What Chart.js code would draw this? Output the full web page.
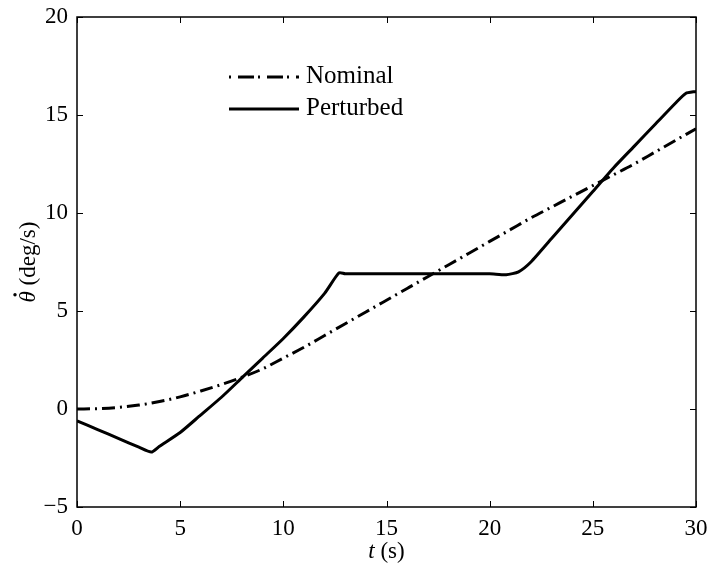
<!DOCTYPE html>
<html>
<head>
<meta charset="utf-8">
<script src="https://cdn.jsdelivr.net/npm/chart.js@4"></script>
<style>
  html, body { margin: 0; padding: 0; background: #fff; }
  #wrap { width: 708px; height: 566px; }
</style>
</head>
<body>
<div id="wrap"><canvas id="thetaChart"></canvas></div>
<script>
// Nominal response
const nominalT = [0, 1, 2, 3, 4, 5, 6, 7, 8, 9, 10, 11, 12, 13, 14, 15, 16, 17, 18, 19, 20, 21, 22, 23, 24, 25, 26, 27, 28, 29, 30];
const nominalY = [0, 0.02, 0.08, 0.2, 0.38, 0.62, 0.92, 1.25, 1.62, 2.05, 2.6, 3.15, 3.75, 4.35, 4.95, 5.55, 6.15, 6.75, 7.35, 7.95, 8.55, 9.15, 9.75, 10.3, 10.85, 11.4, 11.95, 12.5, 13.1, 13.7, 14.3];

// Perturbed response
const perturbedT = [0, 1, 2, 3, 3.6, 4, 5, 6, 7, 8, 9, 10, 11, 12, 12.7, 13, 15, 18, 20, 20.8, 21.4, 22, 23, 24, 25, 26, 27, 28, 29, 29.5, 30];
const perturbedY = [-0.6, -1.05, -1.5, -1.95, -2.2, -1.9, -1.2, -0.3, 0.6, 1.6, 2.6, 3.6, 4.7, 5.9, 6.95, 6.9, 6.9, 6.9, 6.9, 6.85, 7.0, 7.5, 8.7, 9.9, 11.1, 12.3, 13.4, 14.5, 15.6, 16.1, 16.2];

const xTicks = [0, 5, 10, 15, 20, 25, 30];
const yTicks = [-5, 0, 5, 10, 15, 20];

const FONT = '"Liberation Serif", "DejaVu Serif", serif';
const DASHDOT = [13, 5, 2, 5];

// frame, inward ticks, axis titles and legend
const decor = {
    id: 'decor',
    afterDraw(chart) {
        const c = chart.ctx;
        const a = chart.chartArea;
        const xs = chart.scales.x, ys = chart.scales.y;
        c.save();
        c.strokeStyle = '#000';
        c.lineWidth = 1.5;
        c.setLineDash([]);
        c.strokeRect(a.left, a.top, a.right - a.left, a.bottom - a.top);
        c.lineWidth = 1;
        c.beginPath();
        xTicks.forEach(v => {
            const px = Math.round(xs.getPixelForValue(v)) + 0.5;
            c.moveTo(px, a.bottom); c.lineTo(px, a.bottom - 6);
            c.moveTo(px, a.top); c.lineTo(px, a.top + 6);
        });
        yTicks.forEach(v => {
            const py = Math.round(ys.getPixelForValue(v)) + 0.5;
            c.moveTo(a.left, py); c.lineTo(a.left + 6, py);
            c.moveTo(a.right, py); c.lineTo(a.right - 6, py);
        });
        c.stroke();

        // x title: t (s)
        c.fillStyle = '#000';
        c.textBaseline = 'alphabetic';
        c.textAlign = 'left';
        c.font = 'italic 23px ' + FONT;
        const tW = c.measureText('t').width;
        c.font = '23px ' + FONT;
        const rest = ' (s)';
        const rW = c.measureText(rest).width;
        const cx = (a.left + a.right) / 2;
        const x0 = cx - (tW + rW) / 2;
        c.font = 'italic 23px ' + FONT;
        c.fillText('t', x0, 558);
        c.font = '23px ' + FONT;
        c.fillText(rest, x0 + tW, 558);

        // y title
        c.save();
        c.translate(35, (a.top + a.bottom) / 2);
        c.rotate(-Math.PI / 2);
        c.font = 'italic 23px ' + FONT;
        const th = '\u03B8';
        const thW = c.measureText(th).width;
        c.font = '23px ' + FONT;
        const unit = ' (deg/s)';
        const uW = c.measureText(unit).width;
        const y0 = -(thW + uW) / 2;
        c.font = 'italic 23px ' + FONT;
        c.fillText(th, y0, 0);
        c.beginPath();
        c.arc(y0 + thW / 2 + 2, -20, 1.7, 0, Math.PI * 2);
        c.fill();
        c.font = '23px ' + FONT;
        c.fillText(unit, y0 + thW, 0);
        c.restore();

        // legend
        c.lineWidth = 3;
        c.setLineDash([2, 7, 16, 4]);
        c.beginPath(); c.moveTo(229, 77); c.lineTo(299, 77); c.stroke();
        c.setLineDash([]);
        c.beginPath(); c.moveTo(229, 109); c.lineTo(299, 109); c.stroke();
        c.font = '25px ' + FONT;
        c.textBaseline = 'middle';
        c.fillText('Nominal', 306, 76);
        c.fillText('Perturbed', 306, 108);
        c.restore();
    }
};

const ctx = document.getElementById('thetaChart').getContext('2d');
new Chart(ctx, {
    type: 'line',
    data: {
        datasets: [
            {
                label: 'Nominal',
                data: nominalT.map((t, i) => ({ x: t, y: nominalY[i] })),
                borderColor: '#000',
                borderWidth: 3,
                borderDash: DASHDOT,
                pointRadius: 0,
                cubicInterpolationMode: 'monotone',
                fill: false
            },
            {
                label: 'Perturbed',
                data: perturbedT.map((t, i) => ({ x: t, y: perturbedY[i] })),
                borderColor: '#000',
                borderWidth: 3,
                pointRadius: 0,
                tension: 0.2,
                fill: false
            }
        ]
    },
    options: {
        responsive: true,
        maintainAspectRatio: false,
        animation: false,
        layout: { padding: { top: 17, right: 12, left: 0, bottom: 0 } },
        plugins: {
            legend: { display: false },
            tooltip: { enabled: false }
        },
        scales: {
            x: {
                type: 'linear',
                min: 0,
                max: 30,
                afterFit(s) { s.height = 59; },
                afterBuildTicks(s) { s.ticks = xTicks.map(v => ({ value: v })); },
                grid: { display: false },
                border: { display: false },
                ticks: {
                    color: '#000',
                    font: { family: FONT, size: 23 },
                    padding: 0,
                    maxRotation: 0
                }
            },
            y: {
                type: 'linear',
                min: -5,
                max: 20,
                afterFit(s) { s.width = 77; },
                afterBuildTicks(s) { s.ticks = yTicks.map(v => ({ value: v })); },
                grid: { display: false },
                border: { display: false },
                ticks: {
                    color: '#000',
                    font: { family: FONT, size: 23 },
                    padding: 1,
                    callback: v => String(v).replace('-', '\u2212')
                }
            }
        }
    },
    plugins: [decor]
});
</script>
</body>
</html>
